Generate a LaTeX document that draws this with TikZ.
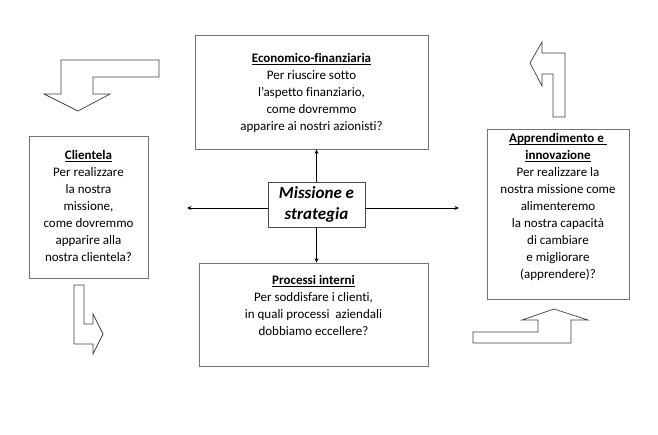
\documentclass[tikz,border=0pt]{standalone}
\usepackage{fontspec}
\setmainfont{Carlito}[Ligatures={NoCommon}]
\usepackage{tikz}
\usetikzlibrary{arrows.meta,positioning}
\newcommand{\ulhead}[1]{$\underline{\smash{\hbox{\bfseries #1}}}$}

\begin{document}
\begin{tikzpicture}[x=1pt,y=-1pt,
		box/.style={draw=black!55, line width=0.8pt, inner sep=0pt},
		boxtext/.style={align=center, inner sep=0pt, font=\fontsize{13}{17}\selectfont},
		core/.style={draw=black!70, line width=0.8pt, align=center, inner sep=0pt,
			font=\fontsize{17}{21}\selectfont\bfseries\itshape},
		link/.style={->, line width=0.7pt},
		blockarrow/.style={draw=black!75, line width=0.7pt, line join=miter},
		>={Stealth[length=4.5pt,width=4pt]}
		]
	\useasboundingbox (0,0) rectangle (658,435);

	% --- Prospettive ---
	\node[box, minimum width=233pt, minimum height=114pt] (econ) at (311.5,92) {};
	\node[boxtext, below=16pt of econ.north] (econt)
		{\strut\ulhead{Economico-finanziaria}\\Per riuscire sotto\\l'aspetto finanziario,\\come dovremmo\\apparire ai nostri azionisti?};

	\node[box, minimum width=119pt, minimum height=142pt] (cli) at (88.5,207) {};
	\node[boxtext, below=12pt of cli.north] (clit)
		{\strut\ulhead{Clientela}\\Per realizzare\\la nostra\\missione,\\come dovremmo\\apparire alla\\nostra clientela?};

	\node[box, minimum width=229pt, minimum height=103pt] (proc) at (313.5,314.5) {};
	\node[boxtext, below=10pt of proc.north] (proct)
		{\strut\ulhead{Processi interni}\\Per soddisfare i clienti,\\in quali processi\ \ aziendali\\dobbiamo eccellere?};

	\node[box, minimum width=142pt, minimum height=170pt] (appr) at (558,214) {};
	\node[boxtext, below=2pt of appr.north] (apprt)
		{\strut\ulhead{Apprendimento e\ }\\\ulhead{innovazione}\\Per realizzare la\\nostra missione come\\alimenteremo\\la nostra capacità\\di cambiare\\e migliorare\\(apprendere)?};

	% --- Centro ---
	\node[core, minimum width=97pt, minimum height=45pt] (miss) at (316.5,204.5)
		{Missione e\\ strategia};
	\coordinate (lend) at (187,208);
	\coordinate (rend) at (459,208);

	\draw[link] (miss) -- (miss |- econ.south);
	\draw[link] (miss) -- (miss |- proc.north);
	\draw[link] (miss.west |- lend) -- (lend);
	\draw[link] (miss.east |- rend) -- (rend);

	% --- Frecce a blocco ---
	\draw[blockarrow] (159,60) -- (61,60) -- (61,94) -- (44,94) -- (78,111)
		-- (110,94) -- (93,94) -- (93,77) -- (159,77) -- cycle;
	\draw[blockarrow] (74,285) -- (84,285) -- (84,324) -- (93,324) -- (93,314)
		-- (103,334) -- (93,354) -- (93,344) -- (74,344) -- cycle;
	\draw[blockarrow] (473,332) -- (538,332) -- (538,320) -- (522,320) -- (554,309)
		-- (588,320) -- (571,320) -- (571,343) -- (473,343) -- cycle;
	\draw[blockarrow] (565,117) -- (565,53) -- (542,53) -- (542,42) -- (530,63)
		-- (542,86) -- (542,74) -- (553,74) -- (553,117) -- cycle;

\end{tikzpicture}
\end{document}
